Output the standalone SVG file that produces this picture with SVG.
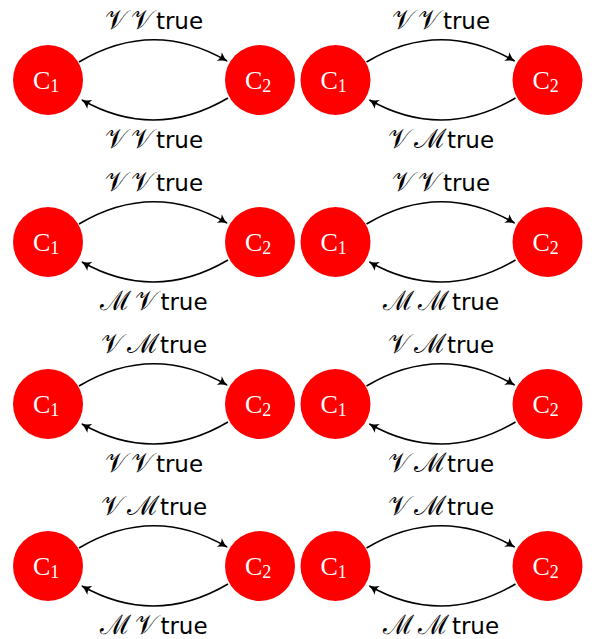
<svg xmlns="http://www.w3.org/2000/svg" width="603" height="639" viewBox="0 0 603 639">
<style>
.node circle{fill:#ff0000;stroke:none}
.nl{font-family:"Liberation Serif","DejaVu Serif",serif;font-size:26px;fill:#fff}
.sub{font-size:18px}
.edge{fill:none;stroke:#000;stroke-width:1.6;marker-end:url(#arr)}
.lab{font-family:"DejaVu Sans","Liberation Sans",sans-serif;font-size:23px;fill:#000;text-anchor:middle}
.scr{font-family:"DejaVu Serif","Liberation Serif",serif;font-size:27px;font-weight:normal}
</style>
<defs>
<marker id="arr" markerUnits="userSpaceOnUse" markerWidth="16" markerHeight="16" refX="0" refY="0" viewBox="-10 -8 16 16" orient="auto" overflow="visible">
<path d="M-9,-5 Q-4,-1 1,0 Q-4,1 -9,5 Q-6,0 -9,-5 Z" fill="#000"/>
</marker>
</defs>
<g id="nodes">
<g id="r1L1" class="node"><circle cx="48" cy="80" r="35"/><text class="nl" x="33" y="89">C<tspan class="sub" dy="3">1</tspan></text></g>
<g id="r1L2" class="node"><circle cx="260" cy="80" r="35"/><text class="nl" x="245" y="89">C<tspan class="sub" dy="3">2</tspan></text></g>
<g id="r1R1" class="node"><circle cx="335.5" cy="80" r="35"/><text class="nl" x="320.5" y="89">C<tspan class="sub" dy="3">1</tspan></text></g>
<g id="r1R2" class="node"><circle cx="547.5" cy="80" r="35"/><text class="nl" x="532.5" y="89">C<tspan class="sub" dy="3">2</tspan></text></g>
<g id="r2L1" class="node"><circle cx="48" cy="242" r="35"/><text class="nl" x="33" y="251">C<tspan class="sub" dy="3">1</tspan></text></g>
<g id="r2L2" class="node"><circle cx="260" cy="242" r="35"/><text class="nl" x="245" y="251">C<tspan class="sub" dy="3">2</tspan></text></g>
<g id="r2R1" class="node"><circle cx="335.5" cy="242" r="35"/><text class="nl" x="320.5" y="251">C<tspan class="sub" dy="3">1</tspan></text></g>
<g id="r2R2" class="node"><circle cx="547.5" cy="242" r="35"/><text class="nl" x="532.5" y="251">C<tspan class="sub" dy="3">2</tspan></text></g>
<g id="r3L1" class="node"><circle cx="48" cy="404" r="35"/><text class="nl" x="33" y="413">C<tspan class="sub" dy="3">1</tspan></text></g>
<g id="r3L2" class="node"><circle cx="260" cy="404" r="35"/><text class="nl" x="245" y="413">C<tspan class="sub" dy="3">2</tspan></text></g>
<g id="r3R1" class="node"><circle cx="335.5" cy="404" r="35"/><text class="nl" x="320.5" y="413">C<tspan class="sub" dy="3">1</tspan></text></g>
<g id="r3R2" class="node"><circle cx="547.5" cy="404" r="35"/><text class="nl" x="532.5" y="413">C<tspan class="sub" dy="3">2</tspan></text></g>
<g id="r4L1" class="node"><circle cx="48" cy="566" r="35"/><text class="nl" x="33" y="575">C<tspan class="sub" dy="3">1</tspan></text></g>
<g id="r4L2" class="node"><circle cx="260" cy="566" r="35"/><text class="nl" x="245" y="575">C<tspan class="sub" dy="3">2</tspan></text></g>
<g id="r4R1" class="node"><circle cx="335.5" cy="566" r="35"/><text class="nl" x="320.5" y="575">C<tspan class="sub" dy="3">1</tspan></text></g>
<g id="r4R2" class="node"><circle cx="547.5" cy="566" r="35"/><text class="nl" x="532.5" y="575">C<tspan class="sub" dy="3">2</tspan></text></g>
</g>
<g id="connectors">
<path class="edge" d="M79,62 Q153,18 227,61"/>
<path class="edge" d="M228,98 Q155,141 82,100"/>
<path class="edge" d="M366.5,62 Q440.5,18 514.5,61"/>
<path class="edge" d="M515.5,98 Q442.5,141 369.5,100"/>
<path class="edge" d="M79,224 Q153,180 227,223"/>
<path class="edge" d="M228,260 Q155,303 82,262"/>
<path class="edge" d="M366.5,224 Q440.5,180 514.5,223"/>
<path class="edge" d="M515.5,260 Q442.5,303 369.5,262"/>
<path class="edge" d="M79,386 Q153,342 227,385"/>
<path class="edge" d="M228,422 Q155,465 82,424"/>
<path class="edge" d="M366.5,386 Q440.5,342 514.5,385"/>
<path class="edge" d="M515.5,422 Q442.5,465 369.5,424"/>
<path class="edge" d="M79,548 Q153,504 227,547"/>
<path class="edge" d="M228,584 Q155,627 82,586"/>
<path class="edge" d="M366.5,548 Q440.5,504 514.5,547"/>
<path class="edge" d="M515.5,584 Q442.5,627 369.5,586"/>
</g>
<g id="labels">
<text class="lab" x="154" y="29"><tspan class="scr">𝒱</tspan><tspan class="scr" dx="4">𝒱</tspan><tspan dx="3">true</tspan></text>
<text class="lab" x="154" y="148"><tspan class="scr">𝒱</tspan><tspan class="scr" dx="4">𝒱</tspan><tspan dx="3">true</tspan></text>
<text class="lab" x="441" y="29"><tspan class="scr">𝒱</tspan><tspan class="scr" dx="4">𝒱</tspan><tspan dx="3">true</tspan></text>
<text class="lab" x="441" y="148"><tspan class="scr">𝒱</tspan><tspan class="scr" dx="4">ℳ</tspan><tspan dx="3">true</tspan></text>
<text class="lab" x="154" y="191"><tspan class="scr">𝒱</tspan><tspan class="scr" dx="4">𝒱</tspan><tspan dx="3">true</tspan></text>
<text class="lab" x="154" y="310"><tspan class="scr">ℳ</tspan><tspan class="scr" dx="4">𝒱</tspan><tspan dx="3">true</tspan></text>
<text class="lab" x="441" y="191"><tspan class="scr">𝒱</tspan><tspan class="scr" dx="4">𝒱</tspan><tspan dx="3">true</tspan></text>
<text class="lab" x="441" y="310"><tspan class="scr">ℳ</tspan><tspan class="scr" dx="4">ℳ</tspan><tspan dx="3">true</tspan></text>
<text class="lab" x="154" y="353"><tspan class="scr">𝒱</tspan><tspan class="scr" dx="4">ℳ</tspan><tspan dx="3">true</tspan></text>
<text class="lab" x="154" y="472"><tspan class="scr">𝒱</tspan><tspan class="scr" dx="4">𝒱</tspan><tspan dx="3">true</tspan></text>
<text class="lab" x="441" y="353"><tspan class="scr">𝒱</tspan><tspan class="scr" dx="4">ℳ</tspan><tspan dx="3">true</tspan></text>
<text class="lab" x="441" y="472"><tspan class="scr">𝒱</tspan><tspan class="scr" dx="4">ℳ</tspan><tspan dx="3">true</tspan></text>
<text class="lab" x="154" y="515"><tspan class="scr">𝒱</tspan><tspan class="scr" dx="4">ℳ</tspan><tspan dx="3">true</tspan></text>
<text class="lab" x="154" y="634"><tspan class="scr">ℳ</tspan><tspan class="scr" dx="4">𝒱</tspan><tspan dx="3">true</tspan></text>
<text class="lab" x="441" y="515"><tspan class="scr">𝒱</tspan><tspan class="scr" dx="4">ℳ</tspan><tspan dx="3">true</tspan></text>
<text class="lab" x="441" y="634"><tspan class="scr">ℳ</tspan><tspan class="scr" dx="4">ℳ</tspan><tspan dx="3">true</tspan></text>
</g>
</svg>
